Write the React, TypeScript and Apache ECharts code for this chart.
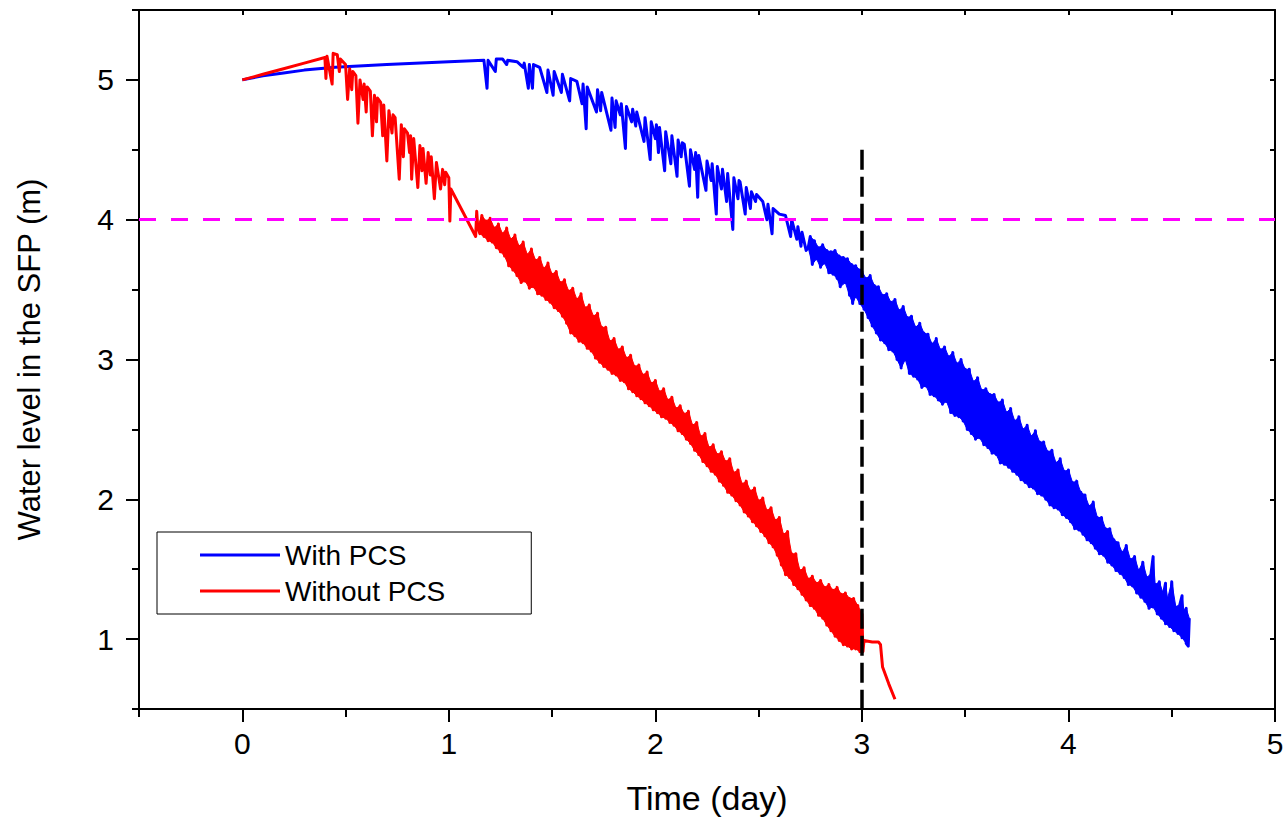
import React, { useEffect, useRef } from "react";
import * as echarts from "echarts";

// ---- Tick values ----
const xMajorTicks = [0, 1, 2, 3, 4, 5];
const xMinorTicks = [-0.5, 0.5, 1.5, 2.5, 3.5, 4.5];
const xAllTicks = [-0.5, 0, 0.5, 1, 1.5, 2, 2.5, 3, 3.5, 4, 4.5, 5];
const yMajorTicks = [1, 2, 3, 4, 5];
const yMinorTicks = [0.5, 1.5, 2.5, 3.5, 4.5, 5.5];
const yAllTicks = [0.5, 1, 1.5, 2, 2.5, 3, 3.5, 4, 4.5, 5, 5.5];

// ---- Reference lines ----
const thresholdLevel = 4;
const markerDay = 3;
const markerTop = 4.5;

// ---- Series names ----
const seriesNames = ["With PCS", "Without PCS"];

// ---- With PCS: smooth part with downward spikes (day, m) ----
const withPCSHead: number[][] = [
  [0, 5.0], [0.1, 5.03], [0.2, 5.05], [0.3, 5.07], [0.45, 5.09], [0.7, 5.11], [1.0, 5.13], [1.17, 5.14],
  [1.185, 4.94], [1.19, 5.14], [1.225, 5.06], [1.23, 5.15], [1.26, 5.15], [1.28, 5.11], [1.285, 5.14],
  [1.33, 5.13], [1.36, 5.09], [1.365, 5.12], [1.385, 4.94], [1.39, 5.11], [1.405, 4.94], [1.41, 5.11],
  [1.44, 5.09], [1.475, 4.91], [1.48, 5.07], [1.505, 4.89], [1.51, 5.06], [1.545, 4.91], [1.55, 5.04],
  [1.585, 4.85], [1.59, 5.01], [1.62, 4.99], [1.645, 4.83], [1.65, 4.97], [1.665, 4.65], [1.67, 4.95],
  [1.715, 4.77], [1.72, 4.93], [1.735, 4.78], [1.74, 4.91], [1.785, 4.64], [1.79, 4.87], [1.805, 4.66],
  [1.81, 4.85], [1.83, 4.75], [1.835, 4.83], [1.855, 4.51], [1.86, 4.81], [1.885, 4.7], [1.89, 4.79],
  [1.905, 4.67], [1.91, 4.77], [1.945, 4.56], [1.95, 4.73], [1.975, 4.43], [1.98, 4.7], [2.0, 4.58],
  [2.005, 4.68], [2.015, 4.48], [2.02, 4.66], [2.045, 4.35], [2.05, 4.63], [2.075, 4.4], [2.08, 4.6],
  [2.105, 4.31], [2.11, 4.57], [2.125, 4.45], [2.13, 4.55], [2.14, 4.54], [2.165, 4.24], [2.17, 4.5],
  [2.19, 4.36], [2.195, 4.48], [2.205, 4.16], [2.21, 4.46], [2.245, 4.21], [2.25, 4.42], [2.27, 4.28],
  [2.275, 4.4], [2.295, 4.04], [2.3, 4.38], [2.32, 4.22], [2.325, 4.36], [2.345, 4.13], [2.35, 4.33],
  [2.375, 3.93], [2.38, 4.3], [2.4, 4.15], [2.405, 4.28], [2.41, 4.27], [2.435, 4.04], [2.44, 4.23],
  [2.46, 4.08], [2.465, 4.2], [2.485, 4.13], [2.49, 4.18], [2.52, 4.13], [2.54, 4.0], [2.545, 4.11],
  [2.565, 3.9], [2.57, 4.08], [2.6, 4.04], [2.63, 4.03], [2.655, 3.88], [2.66, 4.0], [2.685, 3.86],
  [2.69, 3.95], [2.705, 3.81], [2.71, 3.91], [2.73, 3.78],
];

// ---- With PCS: oscillating band, peaks and troughs (day, m) ----
const withPCSPeaks: number[][] = [
  [2.75, 3.88], [2.77, 3.85], [2.79, 3.8], [2.81, 3.82], [2.83, 3.78], [2.85, 3.77], [2.87, 3.78],
  [2.89, 3.74], [2.91, 3.73], [2.93, 3.72], [2.95, 3.68], [2.97, 3.67], [2.99, 3.64],
  [3.0, 3.63], [3.02, 3.58], [3.04, 3.6], [3.06, 3.53], [3.08, 3.52], [3.1, 3.46], [3.12, 3.47],
  [3.14, 3.41], [3.16, 3.43], [3.18, 3.35], [3.2, 3.38], [3.22, 3.3], [3.24, 3.31], [3.26, 3.23],
  [3.28, 3.26], [3.3, 3.19], [3.32, 3.18], [3.34, 3.11], [3.36, 3.15], [3.38, 3.07], [3.4, 3.09],
  [3.42, 3.02], [3.44, 3.05], [3.46, 2.97], [3.48, 3.0], [3.5, 2.93], [3.52, 2.93], [3.54, 2.84],
  [3.56, 2.87], [3.58, 2.78], [3.6, 2.79], [3.62, 2.75], [3.64, 2.75], [3.66, 2.69], [3.68, 2.71],
  [3.7, 2.62], [3.72, 2.65], [3.74, 2.56], [3.76, 2.59], [3.78, 2.5], [3.8, 2.53], [3.82, 2.45],
  [3.84, 2.49], [3.86, 2.41], [3.88, 2.41], [3.9, 2.34], [3.92, 2.35], [3.94, 2.26], [3.96, 2.29],
  [3.98, 2.2], [4.0, 2.21], [4.02, 2.12], [4.04, 2.13], [4.06, 2.05], [4.08, 2.03], [4.1, 1.95],
  [4.12, 1.98], [4.14, 1.87], [4.16, 1.87], [4.18, 1.79], [4.2, 1.79], [4.22, 1.71], [4.24, 1.69],
  [4.26, 1.62], [4.28, 1.67], [4.3, 1.57], [4.32, 1.59], [4.34, 1.49], [4.36, 1.55], [4.38, 1.44],
  [4.4, 1.47], [4.41, 1.59], [4.42, 1.39], [4.44, 1.41], [4.46, 1.32], [4.47, 1.4], [4.48, 1.29],
  [4.5, 1.41], [4.52, 1.23], [4.54, 1.25], [4.55, 1.31], [4.56, 1.19], [4.57, 1.22], [4.585, 1.15],
];
const withPCSTroughs: number[][] = [
  [2.74, 3.8], [2.76, 3.68], [2.78, 3.72], [2.8, 3.66], [2.82, 3.69], [2.84, 3.62], [2.86, 3.61],
  [2.88, 3.58], [2.895, 3.52], [2.92, 3.55], [2.94, 3.46], [2.955, 3.4], [2.97, 3.45], [2.99, 3.4],
  [3.01, 3.36], [3.03, 3.3], [3.05, 3.24], [3.07, 3.19], [3.09, 3.14], [3.11, 3.12], [3.13, 3.07],
  [3.15, 3.06], [3.17, 3.0], [3.19, 2.94], [3.21, 3.0], [3.23, 2.9], [3.25, 2.88], [3.27, 2.86],
  [3.29, 2.8], [3.31, 2.81], [3.33, 2.75], [3.35, 2.74], [3.37, 2.71], [3.39, 2.68], [3.41, 2.7],
  [3.43, 2.62], [3.45, 2.6], [3.47, 2.59], [3.49, 2.56], [3.51, 2.5], [3.53, 2.47], [3.55, 2.43],
  [3.57, 2.44], [3.59, 2.39], [3.61, 2.37], [3.63, 2.33], [3.65, 2.32], [3.67, 2.26], [3.69, 2.25],
  [3.71, 2.23], [3.73, 2.2], [3.75, 2.18], [3.77, 2.14], [3.79, 2.12], [3.81, 2.09], [3.83, 2.08],
  [3.85, 2.04], [3.87, 2.03], [3.89, 2.0], [3.91, 1.96], [3.93, 1.94], [3.95, 1.93], [3.97, 1.89],
  [3.99, 1.87], [4.01, 1.84], [4.03, 1.79], [4.05, 1.78], [4.07, 1.75], [4.09, 1.71], [4.11, 1.69],
  [4.13, 1.65], [4.15, 1.61], [4.17, 1.6], [4.19, 1.55], [4.21, 1.53], [4.23, 1.49], [4.25, 1.47],
  [4.27, 1.44], [4.29, 1.39], [4.31, 1.38], [4.33, 1.33], [4.35, 1.3], [4.37, 1.27], [4.39, 1.22],
  [4.41, 1.23], [4.43, 1.18], [4.45, 1.15], [4.47, 1.11], [4.49, 1.09], [4.51, 1.06], [4.53, 1.04],
  [4.55, 1.01], [4.57, 0.97], [4.58, 0.95],
];

// ---- Without PCS: rise, spiky fall (day, m) ----
const withoutPCSHead: number[][] = [
  [0, 5.0], [0.1, 5.04], [0.2, 5.08], [0.3, 5.12], [0.4, 5.16], [0.405, 5.01], [0.41, 5.17],
  [0.435, 4.97], [0.44, 5.19], [0.46, 5.18], [0.47, 5.06], [0.475, 5.15], [0.5, 5.11], [0.51, 4.86],
  [0.52, 5.08], [0.53, 4.93], [0.535, 5.06], [0.55, 5.03], [0.56, 4.69], [0.57, 5.0], [0.585, 4.86],
  [0.59, 4.97], [0.6, 4.77], [0.605, 4.95], [0.62, 4.92], [0.63, 4.6], [0.64, 4.89], [0.65, 4.7],
  [0.655, 4.87], [0.67, 4.84], [0.68, 4.6], [0.685, 4.82], [0.7, 4.42], [0.71, 4.78], [0.725, 4.62],
  [0.73, 4.75], [0.74, 4.73], [0.76, 4.29], [0.77, 4.68], [0.78, 4.45], [0.785, 4.65], [0.8, 4.62],
  [0.81, 4.48], [0.815, 4.6], [0.82, 4.29], [0.83, 4.58], [0.85, 4.23], [0.86, 4.53], [0.87, 4.35],
  [0.875, 4.51], [0.89, 4.26], [0.9, 4.48], [0.91, 4.32], [0.915, 4.45], [0.93, 4.15], [0.94, 4.41],
  [0.96, 4.22], [0.97, 4.36], [0.98, 4.25], [0.985, 4.34], [1.0, 4.3], [1.005, 3.99], [1.01, 4.22],
  [1.13, 3.88], [1.135, 4.06],
];

// ---- Without PCS: oscillating band, peaks and troughs (day, m) ----
const withoutPCSPeaks: number[][] = [
  [1.14, 3.95], [1.16, 4.03], [1.18, 3.99], [1.2, 4.01], [1.22, 3.94], [1.24, 3.97], [1.26, 3.9],
  [1.28, 3.94], [1.3, 3.86], [1.32, 3.89], [1.34, 3.81], [1.36, 3.84], [1.38, 3.75], [1.4, 3.79],
  [1.42, 3.71], [1.44, 3.73], [1.46, 3.65], [1.48, 3.69], [1.5, 3.61], [1.52, 3.63], [1.54, 3.55],
  [1.56, 3.57], [1.58, 3.49], [1.6, 3.51], [1.62, 3.43], [1.64, 3.47], [1.66, 3.37], [1.68, 3.39],
  [1.7, 3.31], [1.72, 3.33], [1.74, 3.23], [1.76, 3.23], [1.78, 3.13], [1.8, 3.15], [1.82, 3.07],
  [1.84, 3.09], [1.86, 3.01], [1.88, 3.03], [1.9, 2.95], [1.92, 2.96], [1.94, 2.89], [1.96, 2.91],
  [1.98, 2.83], [2.0, 2.85], [2.02, 2.77], [2.04, 2.79], [2.06, 2.71], [2.08, 2.73], [2.1, 2.65],
  [2.12, 2.67], [2.14, 2.61], [2.16, 2.63], [2.18, 2.53], [2.2, 2.55], [2.22, 2.45], [2.24, 2.47],
  [2.26, 2.37], [2.28, 2.39], [2.3, 2.32], [2.32, 2.34], [2.34, 2.27], [2.36, 2.29], [2.38, 2.19],
  [2.4, 2.21], [2.42, 2.11], [2.44, 2.13], [2.46, 2.06], [2.48, 2.08], [2.5, 1.99], [2.52, 2.01],
  [2.54, 1.92], [2.56, 1.94], [2.58, 1.85], [2.6, 1.87], [2.62, 1.75], [2.64, 1.77], [2.66, 1.61],
  [2.68, 1.61], [2.7, 1.49], [2.72, 1.51], [2.74, 1.43], [2.76, 1.45], [2.78, 1.4], [2.8, 1.42],
  [2.82, 1.37], [2.84, 1.39], [2.86, 1.35], [2.88, 1.37], [2.9, 1.32], [2.92, 1.33], [2.94, 1.29],
  [2.96, 1.29], [2.98, 1.24], [3.0, 1.18],
];
const withoutPCSTroughs: number[][] = [
  [1.15, 3.9], [1.17, 3.88], [1.19, 3.85], [1.21, 3.84], [1.23, 3.8], [1.25, 3.77], [1.27, 3.74],
  [1.29, 3.67], [1.31, 3.64], [1.33, 3.6], [1.35, 3.55], [1.37, 3.56], [1.39, 3.51], [1.41, 3.52],
  [1.43, 3.47], [1.45, 3.46], [1.47, 3.43], [1.49, 3.41], [1.51, 3.37], [1.53, 3.35], [1.55, 3.31],
  [1.57, 3.26], [1.59, 3.19], [1.61, 3.17], [1.63, 3.13], [1.65, 3.12], [1.67, 3.08], [1.69, 3.06],
  [1.71, 3.01], [1.73, 2.98], [1.75, 2.95], [1.77, 2.93], [1.79, 2.9], [1.81, 2.89], [1.83, 2.85],
  [1.85, 2.84], [1.87, 2.79], [1.89, 2.77], [1.91, 2.74], [1.93, 2.72], [1.95, 2.69], [1.97, 2.67],
  [1.99, 2.64], [2.01, 2.62], [2.03, 2.59], [2.05, 2.58], [2.07, 2.55], [2.09, 2.53], [2.11, 2.49],
  [2.13, 2.47], [2.15, 2.43], [2.17, 2.4], [2.19, 2.35], [2.21, 2.32], [2.23, 2.27], [2.25, 2.24],
  [2.27, 2.2], [2.29, 2.18], [2.31, 2.13], [2.33, 2.1], [2.35, 2.05], [2.37, 2.03], [2.39, 1.99],
  [2.41, 1.96], [2.43, 1.91], [2.45, 1.88], [2.47, 1.84], [2.49, 1.81], [2.51, 1.77], [2.53, 1.74],
  [2.55, 1.69], [2.57, 1.66], [2.59, 1.6], [2.61, 1.53], [2.63, 1.46], [2.65, 1.44], [2.67, 1.39],
  [2.69, 1.36], [2.71, 1.32], [2.73, 1.28], [2.75, 1.24], [2.77, 1.22], [2.79, 1.17], [2.81, 1.15],
  [2.83, 1.1], [2.85, 1.06], [2.87, 1.02], [2.89, 0.99], [2.91, 0.96], [2.93, 0.95], [2.95, 0.93],
  [2.97, 0.93], [2.99, 0.91],
];
const withoutPCSTail: number[][] = [
  [3.005, 0.91], [3.01, 0.99], [3.05, 0.98], [3.08, 0.98], [3.09, 0.96], [3.1, 0.8], [3.13, 0.68], [3.16, 0.57],
];

const FONT = "'Liberation Sans', Arial, Helvetica, sans-serif";
const BLUE = "#0000ff";
const RED = "#ff0000";

function byX(a: number[][], b: number[][]): number[][] {
  return a.concat(b).sort((p, q) => p[0] - q[0]);
}

function bandSeries(name: string, peaks: number[][], troughs: number[][], color: string, z: number) {
  const outline = peaks.concat(troughs.slice().reverse());
  return {
    name,
    type: "custom",
    xAxisIndex: 0,
    yAxisIndex: 0,
    silent: true,
    z,
    data: [peaks[0]],
    renderItem: (_params: any, api: any) => ({
      type: "polygon",
      shape: { points: outline.map((p) => api.coord(p)) },
      style: { fill: color, stroke: color, lineWidth: 1 },
    }),
  };
}

export default function App() {
  const ref = useRef<HTMLDivElement>(null);

  useEffect(() => {
    if (!ref.current) return;
    const chart = echarts.init(ref.current, undefined, { renderer: "svg" });

    const axisLine = { show: true, onZero: false, lineStyle: { color: "#000", width: 2 } };
    const noSplit = { show: false };
    const tickStyle = { width: 2, color: "#000" };

    const withPCS = withPCSHead.concat(byX(withPCSPeaks, withPCSTroughs));
    const withoutPCS = withoutPCSHead
      .concat(byX(withoutPCSPeaks, withoutPCSTroughs))
      .concat(withoutPCSTail);

    chart.setOption({
      animation: false,
      backgroundColor: "#fff",
      textStyle: { fontFamily: FONT },
      grid: { left: 139, right: 8, top: 10, bottom: 110, containLabel: false, outerBoundsMode: "none" },
      legend: {
        data: seriesNames,
        orient: "vertical",
        left: 157,
        top: 532,
        icon: "rect",
        itemWidth: 80,
        itemHeight: 3,
        itemGap: 8,
        selectedMode: false,
        borderColor: "#000",
        borderWidth: 1,
        padding: [9, 86, 9, 43],
        textStyle: { fontSize: 28, color: "#000", fontFamily: FONT, lineHeight: 28 },
      },
      xAxis: [
        {
          type: "value",
          min: -0.5,
          max: 5,
          position: "bottom",
          axisLine,
          splitLine: noSplit,
          axisTick: { show: true, inside: false, length: 13, lineStyle: tickStyle, customValues: xMajorTicks },
          axisLabel: { show: true, customValues: xMajorTicks, fontSize: 30, color: "#000", margin: 19, fontFamily: FONT },
          name: "Time (day)",
          nameLocation: "middle",
          nameGap: 72,
          nameTextStyle: { fontSize: 34, color: "#000", fontFamily: FONT },
        },
        {
          type: "value",
          min: -0.5,
          max: 5,
          position: "bottom",
          axisLine: { show: false, onZero: false },
          splitLine: noSplit,
          axisTick: { show: true, inside: false, length: 8, lineStyle: tickStyle, customValues: xMinorTicks },
          axisLabel: { show: false },
        },
        {
          type: "value",
          min: -0.5,
          max: 5,
          position: "top",
          axisLine,
          splitLine: noSplit,
          axisTick: { show: true, inside: true, length: 5, lineStyle: tickStyle, customValues: xAllTicks },
          axisLabel: { show: false },
        },
      ],
      yAxis: [
        {
          type: "value",
          min: 0.5,
          max: 5.5,
          position: "left",
          axisLine,
          splitLine: noSplit,
          axisTick: { show: true, inside: false, length: 13, lineStyle: tickStyle, customValues: yMajorTicks },
          axisLabel: { show: true, customValues: yMajorTicks, fontSize: 30, color: "#000", margin: 25, fontFamily: FONT },
          name: "Water level in the SFP (m)",
          nameLocation: "middle",
          nameGap: 94,
          nameRotate: 90,
          nameTextStyle: { fontSize: 31, color: "#000", fontFamily: FONT },
        },
        {
          type: "value",
          min: 0.5,
          max: 5.5,
          position: "left",
          axisLine: { show: false, onZero: false },
          splitLine: noSplit,
          axisTick: { show: true, inside: false, length: 7, lineStyle: tickStyle, customValues: yMinorTicks },
          axisLabel: { show: false },
        },
        {
          type: "value",
          min: 0.5,
          max: 5.5,
          position: "right",
          axisLine,
          splitLine: noSplit,
          axisTick: { show: true, inside: true, length: 5, lineStyle: tickStyle, customValues: yAllTicks },
          axisLabel: { show: false },
        },
      ],
      series: [
        bandSeries("With PCS band", withPCSPeaks, withPCSTroughs, BLUE, 1),
        {
          name: seriesNames[0],
          type: "line",
          xAxisIndex: 0,
          yAxisIndex: 0,
          data: withPCS,
          showSymbol: false,
          symbol: "none",
          color: BLUE,
          lineStyle: { color: BLUE, width: 3, join: "round" },
          z: 2,
        },
        bandSeries("Without PCS band", withoutPCSPeaks, withoutPCSTroughs, RED, 3),
        {
          name: seriesNames[1],
          type: "line",
          xAxisIndex: 0,
          yAxisIndex: 0,
          data: withoutPCS,
          showSymbol: false,
          symbol: "none",
          color: RED,
          lineStyle: { color: RED, width: 3, join: "round" },
          z: 4,
          markLine: {
            silent: true,
            symbol: ["none", "none"],
            label: { show: false },
            z: 6,
            data: [
              [
                { xAxis: -0.5, yAxis: thresholdLevel, lineStyle: { color: "#ff00ff", width: 3, type: [17, 15] } },
                { xAxis: 5, yAxis: thresholdLevel },
              ],
              [
                { coord: [markerDay, markerTop], lineStyle: { color: "#000", width: 3.5, type: [20, 7] } },
                { coord: [markerDay, 0.5] },
              ],
            ],
          },
        },
      ],
    });

    return () => chart.dispose();
  }, []);

  return (
    <div
      ref={ref}
      style={{ position: "fixed", left: 0, top: 0, width: 1283, height: 819, background: "#fff" }}
    />
  );
}
